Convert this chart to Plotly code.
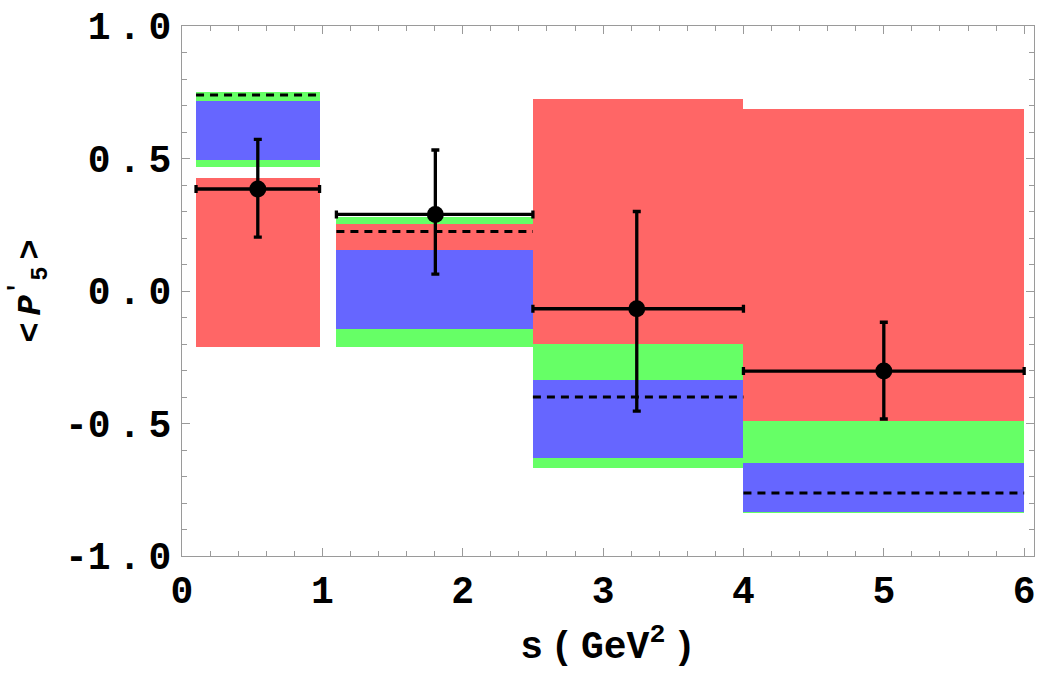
import plotly.graph_objects as go

# bins (GeV^2)
bin_lo = [0.1, 1.1, 2.5, 4.0]
bin_hi = [0.98, 2.5, 4.0, 6.0]

# bands: [low, high] per bin
green_lo = [0.469, -0.21, -0.669, -0.836]
green_hi = [0.750, 0.280, -0.200, -0.489]
red_lo = [-0.210, -0.140, -0.200, -0.489]
red_hi = [0.428, 0.253, 0.725, 0.686]
blue_lo = [0.494, -0.145, -0.631, -0.833]
blue_hi = [0.717, 0.155, -0.336, -0.650]
central = [0.740, 0.225, -0.400, -0.762]

# data points
pt_x = [0.54, 1.805, 3.24, 5.0]
pt_y = [0.385, 0.289, -0.067, -0.302]
pt_up = [0.572, 0.532, 0.300, -0.118]
pt_dn = [0.203, 0.064, -0.453, -0.483]

y_ticks = [-1.0, -0.5, 0.0, 0.5, 1.0]
y_ticktext = ["-1.0", "-0.5", "0.0", "0.5", "1.0"]
x_ticks = [0, 1, 2, 3, 4, 5, 6]

FONT = "Liberation Mono"
FRAME = "#9a9a9a"
SP = "\u2009"

fig = go.Figure()

centers = [(a + b) / 2 for a, b in zip(bin_lo, bin_hi)]
widths = [b - a for a, b in zip(bin_lo, bin_hi)]


def band(lo, hi, color):
    fig.add_trace(go.Bar(
        x=centers, y=[h - l for l, h in zip(lo, hi)], base=lo, width=widths,
        marker=dict(color=color, line=dict(width=0)), showlegend=False,
        hoverinfo="skip"))


band(green_lo, green_hi, "#66FF66")
band(red_lo, red_hi, "#FF6666")
band(blue_lo, blue_hi, "#6666FF")

lx, ly = [], []
for a, b, v in zip(bin_lo, bin_hi, central):
    lx += [a, b, None]
    ly += [v, v, None]
fig.add_trace(go.Scatter(x=lx, y=ly, mode="lines",
                         line=dict(color="black", width=3, dash="8px,6px"),
                         showlegend=False, hoverinfo="skip"))

fig.add_trace(go.Scatter(
    x=pt_x, y=pt_y, mode="markers",
    marker=dict(color="black", size=17),
    error_y=dict(type="data", symmetric=False,
                 array=[u - y for u, y in zip(pt_up, pt_y)],
                 arrayminus=[y - d for y, d in zip(pt_y, pt_dn)],
                 color="black", thickness=3.3, width=4),
    error_x=dict(type="data", symmetric=False,
                 array=[b - x for b, x in zip(bin_hi, pt_x)],
                 arrayminus=[x - a for x, a in zip(pt_x, bin_lo)],
                 color="black", thickness=3.3, width=4),
    showlegend=False))

fig.update_layout(
    width=1042, height=682,
    margin=dict(l=182, r=6, t=26, b=126),
    plot_bgcolor="white", paper_bgcolor="white",
    barmode="overlay", bargap=0,
    font=dict(family=FONT, color="black"),
)

fig.update_xaxes(
    range=[0, 6.07], tickvals=x_ticks, ticktext=[str(v) for v in x_ticks],
    showgrid=False, zeroline=False,
    showline=True, linecolor=FRAME, linewidth=1, mirror="ticks",
    ticks="inside", ticklen=8, tickcolor=FRAME, tickwidth=1,
    minor=dict(dtick=0.2, ticks="inside", ticklen=5, tickcolor=FRAME, showgrid=False),
    tickfont=dict(family=FONT, size=38, weight="bold"),
    title=dict(text=SP.join(["s", "(", "GeV<sup>2</sup>", ")"]),
               font=dict(family=FONT, size=38, weight="bold"), standoff=18),
)
fig.update_yaxes(
    range=[-1, 1], tickvals=y_ticks, ticktext=[SP.join(t) if False else t.replace(".", SP + "." + SP) for t in y_ticktext],
    showgrid=False, zeroline=False,
    showline=True, linecolor=FRAME, linewidth=1, mirror="ticks",
    ticks="inside", ticklen=8, tickcolor=FRAME, tickwidth=1,
    minor=dict(dtick=0.1, ticks="inside", ticklen=5, tickcolor=FRAME, showgrid=False),
    tickfont=dict(family=FONT, size=38, weight="bold"),
    ticklabelstandoff=2,
    title=dict(text="<" + SP + "<i>P</i><sup>′</sup><sub>5</sub>" + SP + ">",
               font=dict(family=FONT, size=34, weight="bold"), standoff=14),
)

fig.write_html("out.html")
